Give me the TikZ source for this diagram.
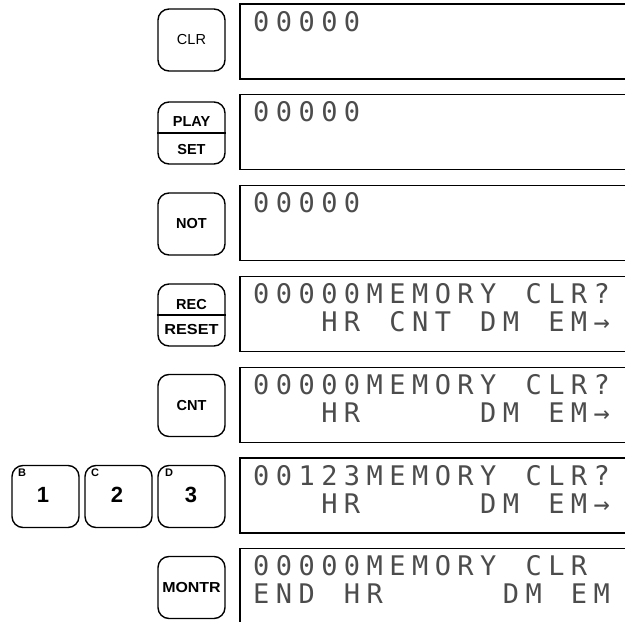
\documentclass[tikz,border=0pt]{standalone}
\usepackage{fontspec}
\setmainfont{Liberation Sans}
\newfontfamily\lcdfont{DejaVu Sans Mono}
\newcommand\lcdchars[1]{\lcdA#1\relax}
\def\lcdA#1{\ifx\relax#1\else\hbox to 22.7pt{\ifx*#1\else#1\fi\hss}\expandafter\lcdA\fi}
\begin{document}
\begin{tikzpicture}[x=1pt,y=-1pt,
  keybox/.style={draw, line width=1.4pt, rounded corners=11pt, minimum width=67pt, minimum height=62pt, inner sep=0pt},
  keylab/.style={font=\fontsize{14.5}{14.5}\selectfont\bfseries, inner sep=0pt},
  disp/.style={draw, line width=1.2pt},
  lcd/.style={anchor=base west, inner sep=0pt, text=black!70, font=\fontsize{27}{27}\selectfont\lcdfont},
  small/.style={anchor=north west, inner sep=0pt, font=\fontsize{11}{11}\selectfont\bfseries},
  big/.style={anchor=base, inner sep=0pt, font=\fontsize{22}{22}\selectfont\bfseries}]
\useasboundingbox (0,0) rectangle (625,622);
\clip (0,0) rectangle (625,622);

% display boxes
\foreach \t in {4,94.8,185.6,276.4,367.2,458,548.8}{
  \draw[disp] (240,\t) rectangle (640,\t+75);
}

% row 1
\node[keybox] (kclr) at (191.5,40) {};
\node[inner sep=0pt, font=\fontsize{14.5}{14.5}\selectfont] (tclr) at (kclr) {CLR};
\node[lcd] (d1a) at (253,31) {\lcdchars{00000}};

% row 2
\node[keybox] (kplay) at (191.5,133) {};
\draw[line width=1.4pt] (kplay.west) -- (kplay.east);
\node[keylab, anchor=base] (tplay) at (191.5,126) {PLAY};
\node[keylab, anchor=base] (tset) at (191.5,154) {SET};
\node[lcd] (d2a) at (253,121.8) {\lcdchars{00000}};

% row 3
\node[keybox] (knot) at (191.5,224) {};
\node[keylab] (tnot) at (knot) {NOT};
\node[lcd] (d3a) at (253,212.6) {\lcdchars{00000}};

% row 4
\node[keybox] (krec) at (191.5,315) {};
\draw[line width=1.4pt] (krec.west) -- (krec.east);
\node[keylab, anchor=base] (trec) at (191.5,309) {REC};
\node[keylab, anchor=base] (treset) at (191.5,334) {\scalebox{1.12}[1]{RESET}};
\node[lcd] (d4a) at (253,303.4) {\lcdchars{00000MEMORY*CLR?}};
\node[lcd] (d4b) at (253,331.4) {\lcdchars{***HR*CNT*DM*EM→}};

% row 5
\node[keybox] (kcnt) at (191.5,405.5) {};
\node[keylab] (tcnt) at (kcnt) {CNT};
\node[lcd] (d5a) at (253,394.2) {\lcdchars{00000MEMORY*CLR?}};
\node[lcd] (d5b) at (253,422.2) {\lcdchars{***HR*****DM*EM→}};

% row 6
\node[keybox] (kb) at (45.5,496.5) {};
\node[keybox] (kc) at (118.5,496.5) {};
\node[keybox] (kd) at (191.5,496.5) {};
\node[small] (lb) at (18,469) {B};
\node[big] (n1) at (43,502) {1};
\node[small] (lc) at (91,469) {C};
\node[big] (n2) at (117,502) {2};
\node[small] (ld) at (165,469) {D};
\node[big] (n3) at (191,502) {3};
\node[lcd] (d6a) at (253,485) {\lcdchars{00123MEMORY*CLR?}};
\node[lcd] (d6b) at (253,513) {\lcdchars{***HR*****DM*EM→}};

% row 7
\node[keybox] (kmon) at (191.5,587.5) {};
\node[keylab] (tmon) at (kmon) {\scalebox{1.1}[1]{MONTR}};
\node[lcd] (d7a) at (253,575.8) {\lcdchars{00000MEMORY*CLR}};
\node[lcd] (d7b) at (253,603.8) {\lcdchars{END*HR*****DM*EM}};
\end{tikzpicture}
\end{document}
